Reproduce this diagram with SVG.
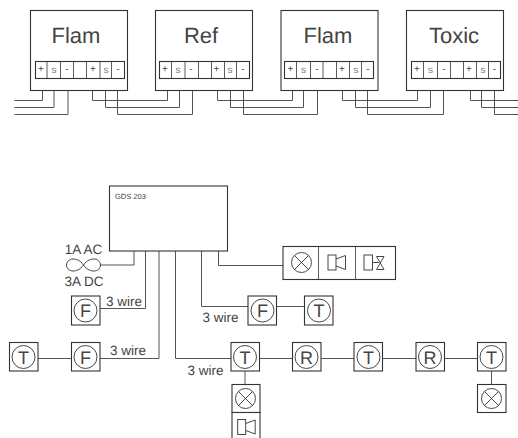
<svg xmlns="http://www.w3.org/2000/svg" width="518" height="438" viewBox="0 0 518 438">
<defs>
<g id="lamp"><circle cx="0" cy="0" r="10"/><path d="M-7.100-7.100L7.100 7.100M-7.100 7.100L7.100-7.100"/></g>
<g id="horn"><rect x="-9" y="-7.500" width="8" height="15"/><path d="M-1-3.500L8.500-7V7L-1 3.500"/></g>
</defs>
<style>
text{font-family:"Liberation Sans",Arial,sans-serif;fill:#444;text-rendering:geometricPrecision}
.b{fill:#fff;stroke:#333;stroke-width:1.100}
.l{fill:none;stroke:#444;stroke-width:1}
.w{fill:none;stroke:#555;stroke-width:1}
.s{fill:none;stroke:#333;stroke-width:.8}
.n{font-size:22px;text-anchor:middle}
.t{font-size:10px;text-anchor:middle}
.u{font-size:10px;text-anchor:middle;fill:#777}
.m{font-size:13.500px}
.c{font-size:18px;text-anchor:middle}
.g{fill:none;stroke:#333;stroke-width:.9}
</style>
<g id="connectors">
<path class="w" d="M14.500 100.500H42.500V78M14.500 107.500H54V78M14.500 114.500H68V78"/>
<path class="w" d="M92.500 78V100.500H167.500V78M105.500 78V107.500H179.500V78M117.500 78V114.500H192.500V78"/>
<path class="w" d="M217.500 78V100.500H292.500V78M230.500 78V107.500H303.500V78M243.500 78V114.500H317.500V78"/>
<path class="w" d="M342.500 78V100.500H417.500V78M355.500 78V107.500H430.500V78M367.500 78V114.500H443.500V78"/>
<path class="w" d="M470.500 78V100.500H518M481.500 78V107.500H518M494.500 78V114.500H518"/>
<path class="w" d="M134 251V265H101M145.500 251V308.500H100M159 251V358.500H100M175.500 251V358.500H231M201.500 251V306.500H248M218.500 251V265.500H283"/>
<path class="w" d="M276.500 306.500H304.500M38 358.500H71M259.500 358.500H292.500M321.500 358.500H354M382.500 358.500H416M444.500 358.500H477.500M245 371V384.500M491.500 371V384.500"/>
</g>
<g id="flam1"><rect class="b" x="30.500" y="10.500" width="97" height="80"/><text class="n" x="76" y="43">Flam</text><rect class="b" x="35.500" y="61.500" width="89" height="17"/><path class="s" d="M47 61.500V78.500M60.500 61.500V78.500M73.500 61.500V78.500M86.500 61.500V78.500M100 61.500V78.500M111.500 61.500V78.500"/><text class="t" x="41" y="72">+</text><text class="u" x="54" y="73">s</text><text class="t" x="67" y="72">-</text><text class="t" x="93" y="72">+</text><text class="u" x="106" y="73">s</text><text class="t" x="118" y="72">-</text></g>
<g id="ref"><rect class="b" x="155.500" y="10.500" width="97" height="80"/><text class="n" x="201" y="43">Ref</text><rect class="b" x="159.500" y="61.500" width="90" height="17"/><path class="s" d="M171.500 61.500V78.500M185 61.500V78.500M198.500 61.500V78.500M211.500 61.500V78.500M224.500 61.500V78.500M236.500 61.500V78.500"/><text class="t" x="165" y="72">+</text><text class="u" x="178" y="73">s</text><text class="t" x="191" y="72">-</text><text class="t" x="216.500" y="72">+</text><text class="u" x="230" y="73">s</text><text class="t" x="243" y="72">-</text></g>
<g id="flam2"><rect class="b" x="281" y="10.500" width="97" height="80"/><text class="n" x="328" y="43">Flam</text><rect class="b" x="284.500" y="61.500" width="89" height="17"/><path class="s" d="M296.500 61.500V78.500M310.500 61.500V78.500M323 61.500V78.500M336.500 61.500V78.500M349.500 61.500V78.500M361.500 61.500V78.500"/><text class="t" x="290.500" y="72">+</text><text class="u" x="303.500" y="73">s</text><text class="t" x="317" y="72">-</text><text class="t" x="342" y="72">+</text><text class="u" x="356" y="73">s</text><text class="t" x="368" y="72">-</text></g>
<g id="toxic"><rect class="b" x="406.500" y="10.500" width="97" height="80"/><text class="n" x="454" y="43">Toxic</text><rect class="b" x="411.500" y="61.500" width="89" height="17"/><path class="s" d="M423.500 61.500V78.500M437.500 61.500V78.500M450.500 61.500V78.500M463.500 61.500V78.500M476.500 61.500V78.500M488.500 61.500V78.500"/><text class="t" x="417" y="72">+</text><text class="u" x="430.500" y="73">s</text><text class="t" x="444" y="72">-</text><text class="t" x="469" y="72">+</text><text class="u" x="483" y="73">s</text><text class="t" x="494.500" y="72">-</text></g>
<g id="gds"><rect class="b" x="109.500" y="186" width="118" height="65"/><text x="115" y="199" font-size="7.500">GDS 203</text></g>
<g id="fuse"><path class="l" d="M83.500 265C87 260 91 259 94 259C98 259 100.500 262 100.500 265C100.500 268 98 271 94 271C91 271 87 270 83.500 265C80 260 76 259 73 259C69 259 66.500 262 66.500 265C66.500 268 69 271 73 271C76 271 80 270 83.500 265Z"/><text class="m" x="83.500" y="254" text-anchor="middle">1A AC</text><text class="m" x="84" y="286" text-anchor="middle">3A DC</text></g>
<g id="alarm"><rect class="b" x="283" y="246.500" width="112.500" height="33"/><path class="s" d="M318.500 246.500V279.500M355.500 246.500V279.500"/><use href="#lamp" class="g" x="301.500" y="262.500"/><use href="#horn" class="g" x="337" y="262.500"/><rect class="g" x="364" y="255" width="8.500" height="15"/><path class="g" d="M372.500 262.500H379M376.500 256.500H384L376.500 269.500H384Z"/></g>
<g id="labels"><text class="m" x="106" y="306">3 wire</text><text class="m" x="110" y="355">3 wire</text><text class="m" x="202.500" y="322">3 wire</text><text class="m" x="187.500" y="375">3 wire</text></g>
<g id="nF1"><rect class="b" x="71.500" y="296" width="28.500" height="29"/><circle class="g" cx="85.500" cy="310.500" r="11.500"/><text class="c" x="85.500" y="317">F</text></g>
<g id="nF2"><rect class="b" x="248" y="296" width="28.500" height="29"/><circle class="g" cx="262.500" cy="310.500" r="11.500"/><text class="c" x="262.500" y="317">F</text></g>
<g id="nT1"><rect class="b" x="304.500" y="296" width="28.500" height="29"/><circle class="g" cx="319" cy="310.500" r="11.500"/><text class="c" x="319" y="317">T</text></g>
<g id="nT2"><rect class="b" x="9.500" y="342.500" width="28.500" height="28.500"/><circle class="g" cx="23.500" cy="357" r="11.500"/><text class="c" x="23.500" y="363.500">T</text></g>
<g id="nF3"><rect class="b" x="71.500" y="342.500" width="28.500" height="28.500"/><circle class="g" cx="85.500" cy="357" r="11.500"/><text class="c" x="85.500" y="363.500">F</text></g>
<g id="nT3"><rect class="b" x="231" y="342.500" width="28.500" height="28.500"/><circle class="g" cx="245" cy="357" r="11.500"/><text class="c" x="245" y="363.500">T</text></g>
<g id="nR1"><rect class="b" x="292.500" y="342.500" width="28.500" height="28.500"/><circle class="g" cx="306.500" cy="357" r="11.500"/><text class="c" x="306.500" y="363.500">R</text></g>
<g id="nT4"><rect class="b" x="354" y="342.500" width="28.500" height="28.500"/><circle class="g" cx="368.500" cy="357" r="11.500"/><text class="c" x="368.500" y="363.500">T</text></g>
<g id="nR2"><rect class="b" x="416" y="342.500" width="28.500" height="28.500"/><circle class="g" cx="430" cy="357" r="11.500"/><text class="c" x="430" y="363.500">R</text></g>
<g id="nT5"><rect class="b" x="477.500" y="342.500" width="28.500" height="28.500"/><circle class="g" cx="491.500" cy="357" r="11.500"/><text class="c" x="491.500" y="363.500">T</text></g>
<g id="nL1"><rect class="b" x="232" y="384.500" width="28" height="28"/><use href="#lamp" class="g" x="245.500" y="398.500"/></g>
<g id="nH1"><rect class="b" x="232" y="412.500" width="28" height="30"/><use href="#horn" class="g" x="246.700" y="427"/></g>
<g id="nL2"><rect class="b" x="477.500" y="384.500" width="28.500" height="28"/><use href="#lamp" class="g" x="491.500" y="398.500"/></g>
</svg>
